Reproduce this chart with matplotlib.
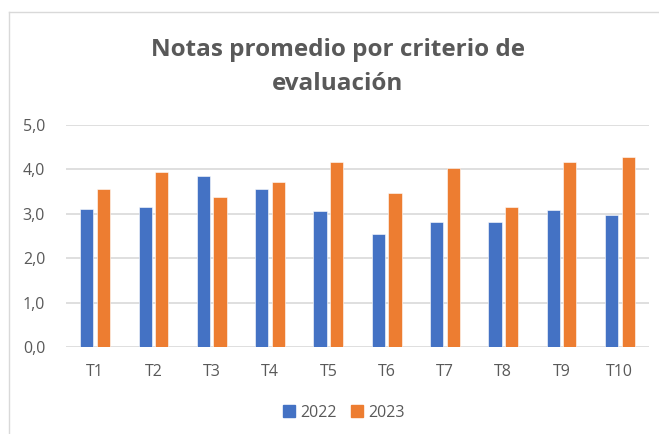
import matplotlib.pyplot as plt
import numpy as np
from matplotlib.lines import Line2D

categories = ['T1', 'T2', 'T3', 'T4', 'T5', 'T6', 'T7', 'T8', 'T9', 'T10']
notas_2022 = [3.12, 3.16, 3.85, 3.55, 3.07, 2.55, 2.81, 2.81, 3.08, 2.98]
notas_2023 = [3.55, 3.94, 3.38, 3.72, 4.16, 3.46, 4.03, 3.15, 4.16, 4.29]
yticks = [0, 1, 2, 3, 4, 5]
ytick_labels = ['0,0', '1,0', '2,0', '3,0', '4,0', '5,0']

blue = '#4472C4'
orange = '#ED7D31'
gray_text = '#595959'

plt.rcParams['font.family'] = ['Open Sans', 'DejaVu Sans']

fig = plt.figure(figsize=(6.59, 4.34), dpi=100)
ax = fig.add_axes([66/659, 1 - 347.3/434, 583/659, 222.3/434])

x = np.arange(len(categories))
w = 0.225
gap = 0.03
ax.bar(x - w/2 - gap, notas_2022, w, color=blue, edgecolor='white', linewidth=0.4, zorder=3)
ax.bar(x + w/2 + gap, notas_2023, w, color=orange, edgecolor='white', linewidth=0.4, zorder=3)

ax.set_xlim(-0.5, len(categories) - 0.5)
ax.set_ylim(0, 5)
ax.set_yticks(yticks)
ax.set_yticklabels(ytick_labels, fontsize=11.5, color=gray_text)
ax.set_xticks(x)
ax.set_xticklabels(categories, fontsize=11.5, color=gray_text)
ax.tick_params(length=0, axis='y', pad=15)
ax.tick_params(length=0, axis='x', pad=12)
ax.grid(axis='y', color='#D9D9D9', linewidth=1.2, zorder=0)
for s in ax.spines.values():
    s.set_visible(False)

fig.text(338/659, 1 - 50/434, 'Notas promedio por criterio de', ha='center', va='center',
         fontsize=17.5, fontweight='bold', color=gray_text)
fig.text(338/659, 1 - 84/434, 'evaluación', ha='center', va='center',
         fontsize=17.5, fontweight='bold', color=gray_text)

handles = [Line2D([], [], marker='s', color='none', markerfacecolor=blue, markeredgecolor=blue, markersize=8),
           Line2D([], [], marker='s', color='none', markerfacecolor=orange, markeredgecolor=orange, markersize=8)]
fig.legend(handles, ['2022', '2023'], loc='center', bbox_to_anchor=(343/659, 1 - 413/434),
           ncol=2, frameon=False, fontsize=11.5, labelcolor=gray_text,
           handletextpad=0.2, columnspacing=0.8, handlelength=1.0)

# chart border
fig.add_artist(Line2D([9/659, 9/659], [0, 1 - 12/434], color='#D9D9D9', linewidth=1, transform=fig.transFigure))
fig.add_artist(Line2D([9/659, 1], [1 - 12/434, 1 - 12/434], color='#D9D9D9', linewidth=1, transform=fig.transFigure))

fig.savefig('out.png', dpi=100)
